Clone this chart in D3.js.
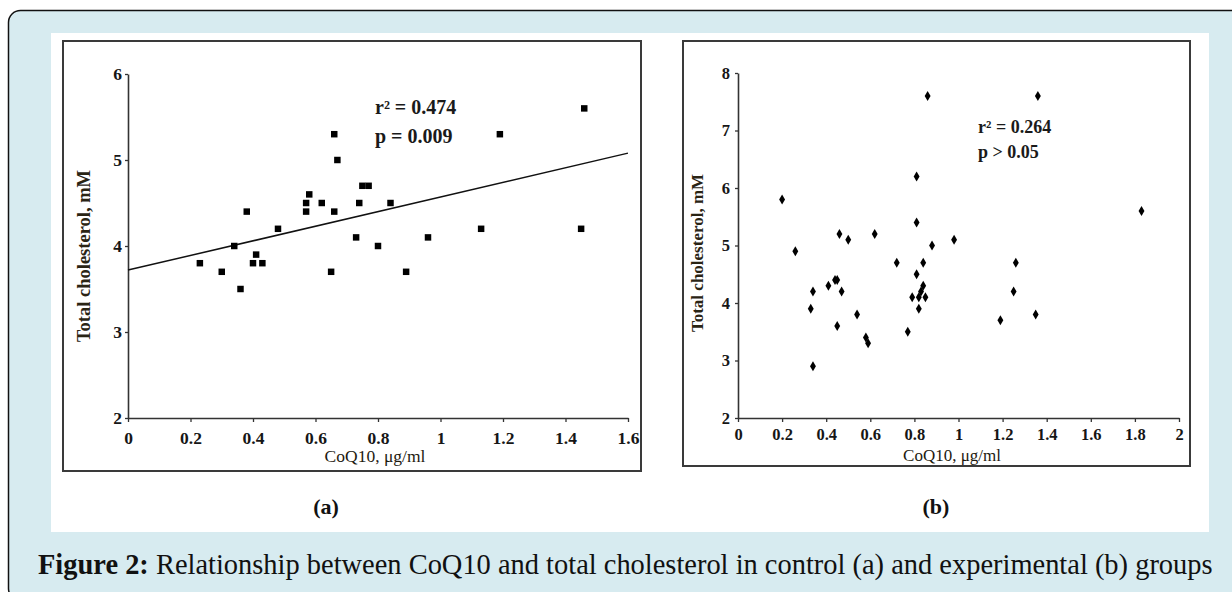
<!DOCTYPE html>
<html>
<head>
<meta charset="utf-8">
<script src="https://cdn.jsdelivr.net/npm/d3@7"></script>
<style>
  html, body { margin: 0; padding: 0; background: #fff; }
  svg { display: block; }
  text { font-family: "Liberation Serif", "Times New Roman", serif; }
</style>
</head>
<body>
<svg width="1232" height="592"></svg>
<script>
// data, panel (a): control group
const aCoq  = [0.23, 0.30, 0.34, 0.36, 0.38, 0.41, 0.40, 0.43, 0.48, 0.57, 0.57, 0.58, 0.62, 0.66, 0.67,
               0.66, 0.65, 0.73, 0.74, 0.75, 0.77, 0.80, 0.84, 0.89, 0.96, 1.13, 1.19, 1.45, 1.46]
const aChol = [3.8, 3.7, 4.0, 3.5, 4.4, 3.9, 3.8, 3.8, 4.2, 4.5, 4.4, 4.6, 4.5, 5.3, 5.0,
               4.4, 3.7, 4.1, 4.5, 4.7, 4.7, 4.0, 4.5, 3.7, 4.1, 4.2, 5.3, 4.2, 5.6]
const aFit = { intercept: 3.72, slope: 0.85 }
const aStats = ["r² = 0.474", "p = 0.009"]
const aXTicks = [0, 0.2, 0.4, 0.6, 0.8, 1, 1.2, 1.4, 1.6]
const aYTicks = [2, 3, 4, 5, 6]

// data, panel (b): experimental group
const bCoq  = [0.20, 0.26, 0.33, 0.34, 0.34, 0.41, 0.44, 0.45, 0.45, 0.46, 0.47, 0.50, 0.54, 0.58, 0.59,
               0.62, 0.72, 0.77, 0.79, 0.81, 0.81, 0.81, 0.82, 0.82, 0.83, 0.84, 0.84, 0.85, 0.86, 0.88,
               0.98, 1.19, 1.25, 1.26, 1.35, 1.36, 1.83]
const bChol = [5.8, 4.9, 3.9, 4.2, 2.9, 4.3, 4.4, 4.4, 3.6, 5.2, 4.2, 5.1, 3.8, 3.4, 3.3,
               5.2, 4.7, 3.5, 4.1, 6.2, 5.4, 4.5, 4.1, 3.9, 4.2, 4.3, 4.7, 4.1, 7.6, 5.0,
               5.1, 3.7, 4.2, 4.7, 3.8, 7.6, 5.6]
const bStats = ["r² = 0.264", "p > 0.05"]
const bXTicks = [0, 0.2, 0.4, 0.6, 0.8, 1, 1.2, 1.4, 1.6, 1.8, 2]
const bYTicks = [2, 3, 4, 5, 6, 7, 8]

const yTitle = "Total cholesterol, mM"
const xTitle = "CoQ10, μg/ml"
const caption = ["Figure 2:", " Relationship between CoQ10 and total cholesterol in control (a) and experimental (b) groups"]

const svg = d3.select('svg')

// 外框 + 白底
svg.append('rect').attr('x', 8.5).attr('y', 10.5).attr('width', 1260).attr('height', 590)
    .attr('rx', 12).attr('fill', '#d7ebf0').attr('stroke', '#111').attr('stroke-width', 1.5)
svg.append('rect').attr('x', 51).attr('y', 33).attr('width', 1158).attr('height', 499).attr('fill', '#fff')

function panel(opt) {
    const g = svg.append('g')
    g.append('rect').attr('x', opt.frame[0]).attr('y', opt.frame[1])
        .attr('width', opt.frame[2] - opt.frame[0]).attr('height', opt.frame[3] - opt.frame[1])
        .attr('fill', 'none').attr('stroke', '#3a3a3a').attr('stroke-width', 2)

    const x = d3.scaleLinear().domain(d3.extent(opt.xTicks)).range(opt.xRange)
    const y = d3.scaleLinear().domain(d3.extent(opt.yTicks)).range(opt.yRange)

    const xAxis = g.append('g').attr('transform', 'translate(0,' + opt.yRange[0] + ')')
        .call(d3.axisBottom(x).tickValues(opt.xTicks).tickSize(4).tickSizeOuter(0)
            .tickPadding(opt.xPad).tickFormat(d => String(d)))
    const yAxis = g.append('g').attr('transform', 'translate(' + opt.xRange[0] + ',0)')
        .call(d3.axisLeft(y).tickValues(opt.yTicks).tickSize(3).tickSizeOuter(0)
            .tickPadding(opt.yPad).tickFormat(d => String(d)))
    ;[xAxis, yAxis].forEach(ax => {
        ax.select('.domain').attr('stroke', '#333').attr('stroke-width', 1.6)
        ax.selectAll('.tick line').attr('stroke', '#333').attr('stroke-width', 1.3)
        ax.selectAll('.tick text').attr('fill', '#161616').attr('font-weight', 'bold')
            .style('font-family', '"Liberation Serif", serif').style('font-size', opt.tickFont + 'px')
    })

    // 回归线
    if (opt.fit) {
        const [x0, x1] = x.domain()
        g.append('line')
            .attr('x1', x(x0)).attr('y1', y(opt.fit.intercept + opt.fit.slope * x0))
            .attr('x2', x(x1)).attr('y2', y(opt.fit.intercept + opt.fit.slope * x1))
            .attr('stroke', '#111').attr('stroke-width', 1.5)
    }

    // 点
    g.selectAll('.pt').data(opt.xs).enter().append('path')
        .attr('d', d3.symbol().type(opt.symbol).size(opt.symbolSize))
        .attr('transform', (d, i) => 'translate(' + x(d) + ',' + y(opt.ys[i]) + ')')
        .attr('fill', '#000')

    // 统计文字
    g.selectAll('.stat').data(opt.stats).enter().append('text')
        .attr('x', opt.statPos[0]).attr('y', (d, i) => opt.statPos[1] + i * opt.statGap)
        .attr('font-weight', 'bold').attr('font-size', opt.statFont).attr('fill', '#1a1a1a')
        .text(d => d)

    // 坐标轴标题
    g.append('text').attr('transform', 'translate(' + opt.yTitlePos[0] + ',' + opt.yTitlePos[1] + ') rotate(-90)')
        .attr('text-anchor', 'middle').attr('font-weight', 'bold').attr('font-size', opt.yTitleFont)
        .attr('fill', '#2a2414').text(yTitle)
    g.append('text').attr('x', opt.xTitlePos[0]).attr('y', opt.xTitlePos[1])
        .attr('text-anchor', 'middle').attr('font-size', opt.xTitleFont).attr('fill', '#1e1a10')
        .text(xTitle)

    g.append('text').attr('x', opt.label[1]).attr('y', 514).attr('text-anchor', 'middle')
        .attr('font-size', 22).attr('font-weight', 'bold').attr('fill', '#111').text(opt.label[0])
}

panel({
    frame: [63, 41, 641, 471], xRange: [128, 628], yRange: [418, 74],
    xTicks: aXTicks, yTicks: aYTicks, xs: aCoq, ys: aChol, fit: aFit,
    symbol: d3.symbolSquare, symbolSize: 42, tickFont: 17.5, xPad: 10, yPad: 3,
    stats: aStats, statPos: [375, 114], statGap: 29, statFont: 20,
    yTitlePos: [90, 256], yTitleFont: 18.5, xTitlePos: [375, 462], xTitleFont: 17.5,
    label: ['(a)', 326]
})
panel({
    frame: [683, 41, 1190, 466], xRange: [738, 1179], yRange: [418, 73],
    xTicks: bXTicks, yTicks: bYTicks, xs: bCoq, ys: bChol, fit: null,
    symbol: d3.symbolDiamond, symbolSize: 30, tickFont: 16.5, xPad: 6, yPad: 5,
    stats: bStats, statPos: [978, 133], statGap: 25, statFont: 18,
    yTitlePos: [703, 253], yTitleFont: 17, xTitlePos: [952, 461], xTitleFont: 17,
    label: ['(b)', 936]
})

// 图注
const cap = svg.append('text').attr('x', 38).attr('y', 574).attr('font-size', 22).attr('fill', '#111')
cap.append('tspan').attr('font-weight', 'bold').text(caption[0])
cap.append('tspan').text(caption[1])
// 按参考宽度调整字号
const w = cap.node().getComputedTextLength()
cap.attr('font-size', 22 * 1175 / w)
</script>
</body>
</html>
